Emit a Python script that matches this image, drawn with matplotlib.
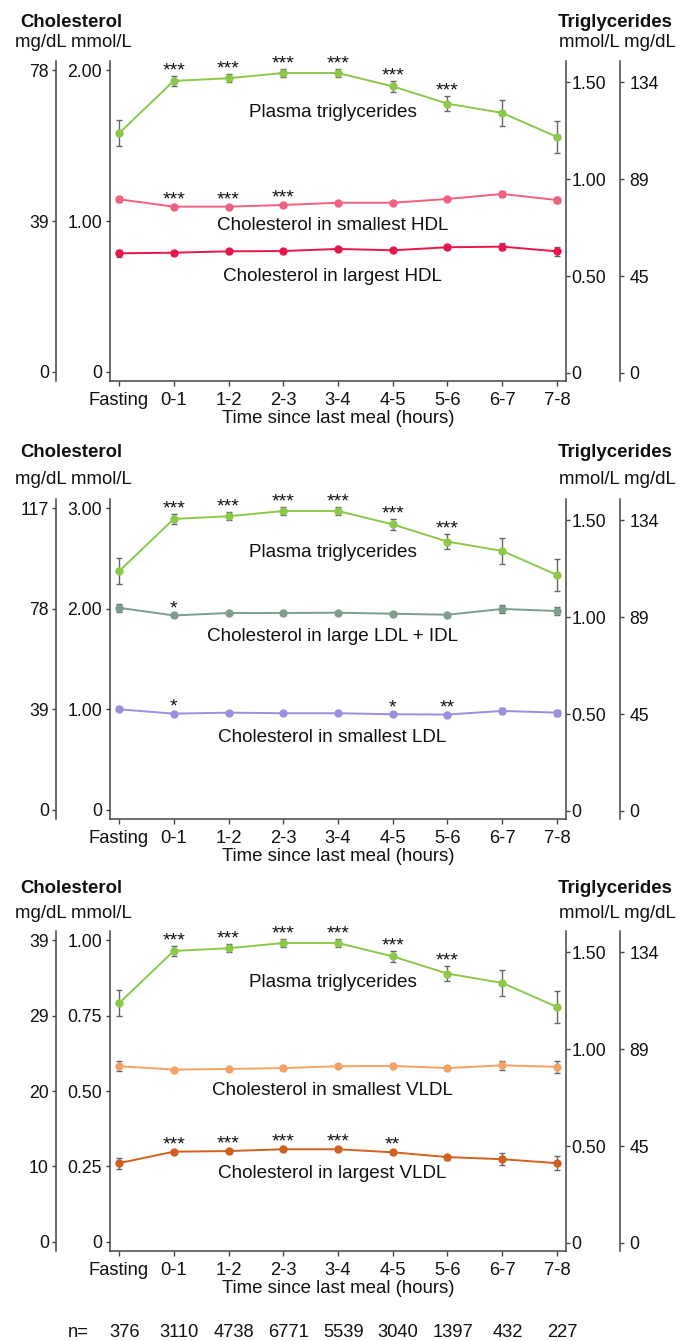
import matplotlib
matplotlib.use('Agg')
import matplotlib.pyplot as plt
from matplotlib.transforms import blended_transform_factory

plt.rcParams['font.family'] = ['Liberation Sans', 'DejaVu Sans']

# x categories and sample sizes
time_labels = ['Fasting', '0-1', '1-2', '2-3', '3-4', '4-5', '5-6', '6-7', '7-8']
n_obs = [376, 3110, 4738, 6771, 5539, 3040, 1397, 432, 227]

# plasma triglycerides (mmol/L), same in every panel
trig = [1.237, 1.507, 1.521, 1.548, 1.548, 1.479, 1.390, 1.342, 1.218]
trig_err = [0.067, 0.026, 0.02, 0.02, 0.02, 0.027, 0.04, 0.067, 0.084]
trig_stars = ['', '***', '***', '***', '***', '***', '***', '', '']

# cholesterol series (mmol/L)
hdl_small = [1.144, 1.095, 1.095, 1.106, 1.121, 1.121, 1.146, 1.179, 1.139]
hdl_small_err = [0.015, 0.008, 0.008, 0.008, 0.008, 0.008, 0.01, 0.02, 0.02]
hdl_small_stars = ['', '***', '***', '***', '', '', '', '', '']

hdl_large = [0.786, 0.790, 0.799, 0.801, 0.815, 0.806, 0.826, 0.830, 0.799]
hdl_large_err = [0.025, 0.01, 0.01, 0.01, 0.01, 0.01, 0.012, 0.022, 0.03]
hdl_large_stars = [''] * 9

ldl_large = [2.009, 1.933, 1.957, 1.957, 1.960, 1.950, 1.940, 1.997, 1.977]
ldl_large_err = [0.04, 0.015, 0.012, 0.012, 0.012, 0.015, 0.02, 0.04, 0.04]
ldl_large_stars = ['', '*', '', '', '', '', '', '', '']

ldl_small = [1.0, 0.957, 0.967, 0.961, 0.961, 0.951, 0.948, 0.984, 0.967]
ldl_small_err = [0.02, 0.01, 0.01, 0.01, 0.01, 0.01, 0.015, 0.025, 0.03]
ldl_small_stars = ['', '*', '', '', '', '*', '**', '', '']

vldl_small = [0.582, 0.571, 0.573, 0.576, 0.582, 0.583, 0.576, 0.585, 0.580]
vldl_small_err = [0.017, 0.006, 0.006, 0.006, 0.006, 0.006, 0.008, 0.016, 0.02]
vldl_small_stars = [''] * 9

vldl_large = [0.261, 0.299, 0.301, 0.307, 0.307, 0.297, 0.281, 0.274, 0.261]
vldl_large_err = [0.018, 0.006, 0.006, 0.006, 0.006, 0.006, 0.008, 0.02, 0.023]
vldl_large_stars = ['', '***', '***', '***', '***', '**', '', '', '']

# axis ticks and their labels
chol_ticks = [[0, 1, 2], [0, 1, 2, 3], [0, 0.25, 0.5, 0.75, 1.0]]
chol_mmol_labels = [['0', '1.00', '2.00'], ['0', '1.00', '2.00', '3.00'],
                    ['0', '0.25', '0.50', '0.75', '1.00']]
chol_mg_labels = [['0', '39', '78'], ['0', '39', '78', '117'],
                  ['0', '10', '20', '29', '39']]
trig_ticks = [0, 0.5, 1.0, 1.5]
trig_mmol_labels = ['0', '0.50', '1.00', '1.50']
trig_mg_labels = ['0', '45', '89', '134']

TRIG_COLOR = '#8dc84a'
panels = [
    [('Cholesterol in smallest HDL', hdl_small, hdl_small_err, hdl_small_stars, '#f2607f', 0.94),
     ('Cholesterol in largest HDL', hdl_large, hdl_large_err, hdl_large_stars, '#e8164a', 0.605)],
    [('Cholesterol in large LDL + IDL', ldl_large, ldl_large_err, ldl_large_stars, '#7f9d8c', 1.682),
     ('Cholesterol in smallest LDL', ldl_small, ldl_small_err, ldl_small_stars, '#9c8fdf', 0.679)],
    [('Cholesterol in smallest VLDL', vldl_small, vldl_small_err, vldl_small_stars, '#f5a266', 0.486),
     ('Cholesterol in largest VLDL', vldl_large, vldl_large_err, vldl_large_stars, '#d2611f', 0.211)],
]
trig_label_y = [1.691, 2.518, 0.846]

W, H = 679, 1341
fig = plt.figure(figsize=(W / 100, H / 100), dpi=100)

tops = [61, 499, 931]
head_base = [(26.7, 46.7), (456.7, 483.8), (893.0, 917.5)]
SP = '#444444'
TXT = '#111111'
x = list(range(len(time_labels)))


def style_y(a, side, pad):
    for s in ['top', 'bottom', 'left', 'right']:
        a.spines[s].set_visible(s == side)
    a.spines[side].set_color(SP)
    a.spines[side].set_linewidth(1.1)
    a.tick_params(axis='y', direction='out', length=3, width=1, color=SP,
                  labelsize=12.7, pad=pad, labelcolor=TXT)


def add_stars(a, vals, errs, stars):
    for i, s in enumerate(stars):
        if s:
            a.annotate(s, (i, vals[i] + errs[i]), xytext=(0, 0.6), textcoords='offset points',
                       ha='center', va='baseline', fontsize=14, color=TXT)


for p in range(3):
    top = tops[p]
    M = chol_ticks[p][-1]
    ax = fig.add_axes([110 / W, 1 - (top + 320) / H, 456 / W, 320 / H])
    ax.set_xlim(-0.165, 8.165)
    ax.set_ylim(-0.03 * M, 1.03 * M)
    ax.spines['top'].set_visible(False)
    ax.spines['right'].set_visible(False)
    for s in ['left', 'bottom']:
        ax.spines[s].set_color(SP)
        ax.spines[s].set_linewidth(1.1)
    ax.set_yticks(chol_ticks[p])
    ax.set_yticklabels(chol_mmol_labels[p])
    ax.tick_params(axis='y', direction='out', length=3, width=1, color=SP,
                   labelsize=12.7, pad=2.7, labelcolor=TXT)
    ax.set_xticks(x)
    ax.set_xticklabels(time_labels)
    ax.tick_params(axis='x', direction='out', length=3.6, width=1, color=SP,
                   labelsize=13.2, pad=4, labelcolor=TXT)
    ax.set_xlabel('Time since last meal (hours)', fontsize=13.4, labelpad=1, color=TXT)

    # outer mg/dL cholesterol axis
    ol = ax.twinx()
    ol.spines['left'].set_position(('axes', -54 / 456))
    ol.yaxis.tick_left()
    style_y(ol, 'left', 2.2)
    ol.set_ylim(ax.get_ylim())
    ol.set_yticks(chol_ticks[p])
    ol.set_yticklabels(chol_mg_labels[p])

    # triglyceride axes
    tr = ax.twinx()
    style_y(tr, 'right', 0.7)
    tr.set_ylim(-0.042, 1.61)
    tr.set_yticks(trig_ticks)
    tr.set_yticklabels(trig_mmol_labels)

    orr = ax.twinx()
    orr.spines['right'].set_position(('axes', 1 + 54 / 456))
    style_y(orr, 'right', 3.6)
    orr.set_ylim(tr.get_ylim())
    orr.set_yticks(trig_ticks)
    orr.set_yticklabels(trig_mg_labels)

    for name, vals, errs, stars, col, ly in panels[p]:
        ax.errorbar(x, vals, yerr=errs, color=col, marker='o', ms=5, lw=1.4,
                    ecolor='#666666', elinewidth=1, capsize=2.3, capthick=1)
        add_stars(ax, vals, errs, stars)
        ax.text(3.9, ly, name, ha='center', va='baseline', fontsize=13.6, color=TXT)

    tr.errorbar(x, trig, yerr=trig_err, color=TRIG_COLOR, marker='o', ms=5, lw=1.4,
                ecolor='#666666', elinewidth=1, capsize=2.3, capthick=1)
    add_stars(tr, trig, trig_err, trig_stars)
    ax.text(3.9, trig_label_y[p], 'Plasma triglycerides', ha='center', va='baseline',
            fontsize=13.6, color=TXT)

    b1, b2 = head_base[p]
    fig.text(20 / W, 1 - b1 / H, 'Cholesterol', fontsize=13.4, fontweight='bold',
             ha='left', va='baseline', color=TXT)
    fig.text(15 / W, 1 - b2 / H, 'mg/dL mmol/L', fontsize=13.4, ha='left', va='baseline', color=TXT)
    fig.text(673 / W, 1 - b1 / H, 'Triglycerides', fontsize=13.4, fontweight='bold',
             ha='right', va='baseline', color=TXT)
    fig.text(676 / W, 1 - b2 / H, 'mmol/L mg/dL', fontsize=13.4, ha='right', va='baseline', color=TXT)

    if p == 2:
        tf = blended_transform_factory(ax.transData, fig.transFigure)
        ax.text(-0.75, 1 - 1336.7 / H, 'n=', transform=tf, ha='center', va='baseline',
                fontsize=13.2, color=TXT)
        for i, n in enumerate(n_obs):
            ax.text(i + 0.1, 1 - 1336.7 / H, str(n), transform=tf, ha='center',
                    va='baseline', fontsize=13.2, color=TXT)

fig.savefig('out.png', dpi=100, facecolor='white')
